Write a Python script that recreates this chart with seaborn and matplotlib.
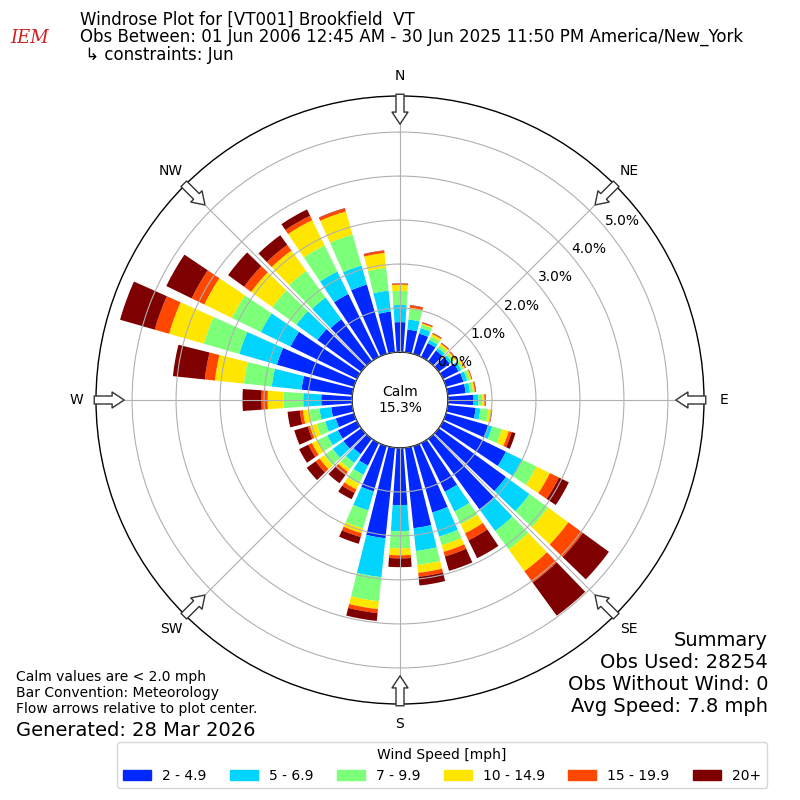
import numpy as np
import matplotlib
matplotlib.use("Agg")
import matplotlib.pyplot as plt
import seaborn as sns
from matplotlib.patches import Patch

sns.set_style("white")
plt.rcParams['font.family'] = ['DejaVu Sans']
plt.rcParams['text.color'] = 'black'

# Direction bins (degrees, meteorological convention)
directions = np.arange(0, 360, 10)

speed_bins = ["2 - 4.9", "5 - 6.9", "7 - 9.9", "10 - 14.9", "15 - 19.9", "20+"]
bin_colors = ["#0028ff", "#00d4ff", "#7cff79", "#ffe600", "#ff4700", "#7f0000"]

# Frequency (%) for each speed bin, 0..350 deg
spd_2_5 = [0.68, 0.52, 0.48, 0.35, 0.30, 0.31, 0.39, 0.41, 0.41, 0.58, 0.64, 1.00,
           1.59, 1.89, 1.98, 1.23, 1.57, 1.84, 1.30, 2.07, 1.07, 0.57, 0.43, 0.50,
           0.48, 0.43, 0.48, 0.70, 1.16, 1.82, 1.68, 1.23, 1.18, 1.59, 1.64, 0.93]
spd_5_7 = [0.39, 0.23, 0.13, 0.08, 0.07, 0.06, 0.07, 0.09, 0.10, 0.11, 0.11, 0.09,
           0.41, 0.66, 0.61, 0.50, 0.57, 0.52, 0.59, 0.89, 0.45, 0.23, 0.25, 0.30,
           0.27, 0.25, 0.27, 0.41, 0.68, 0.89, 0.75, 0.59, 0.61, 0.57, 0.45, 0.48]
spd_7_10 = [0.32, 0.24, 0.08, 0.09, 0.07, 0.06, 0.05, 0.06, 0.07, 0.09, 0.18, 0.23,
            0.36, 0.52, 0.52, 0.32, 0.20, 0.32, 0.39, 0.55, 0.43, 0.23, 0.17, 0.24,
            0.25, 0.20, 0.23, 0.45, 0.64, 0.84, 0.73, 0.68, 0.75, 0.66, 0.73, 0.52]
spd_10_15 = [0.14, 0.03, 0.03, 0.06, 0.05, 0.04, 0.04, 0.04, 0.04, 0.05, 0.07, 0.16,
             0.34, 0.57, 0.61, 0.23, 0.16, 0.18, 0.16, 0.18, 0.11, 0.14, 0.08, 0.13,
             0.14, 0.16, 0.15, 0.36, 0.66, 0.82, 0.70, 0.59, 0.57, 0.64, 0.55, 0.34]
spd_15_20 = [0.02, 0.05, 0.02, 0.02, 0.02, 0.02, 0.02, 0.01, 0.02, 0.02, 0.01, 0.07,
             0.23, 0.41, 0.32, 0.18, 0.11, 0.09, 0.07, 0.09, 0.09, 0.09, 0.09, 0.11,
             0.09, 0.05, 0.07, 0.14, 0.23, 0.34, 0.32, 0.20, 0.16, 0.11, 0.07, 0.05]
spd_20 = [0.01, 0.01, 0.01, 0.01, 0.01, 0.01, 0.01, 0.01, 0.01, 0.01, 0.01, 0.09,
          0.25, 0.73, 0.93, 0.45, 0.34, 0.20, 0.20, 0.18, 0.16, 0.16, 0.23, 0.25,
          0.23, 0.32, 0.28, 0.43, 0.73, 0.82, 0.64, 0.45, 0.27, 0.16, 0.01, 0.01]

series = [spd_2_5, spd_5_7, spd_7_10, spd_10_15, spd_15_20, spd_20]
calm_pct = 15.3

compass_names = ["N", "NE", "E", "SE", "S", "SW", "W", "NW"]
compass_angles = [0, 45, 90, 135, 180, 225, 270, 315]
r_ticks = [0, 1, 2, 3, 4, 5]

palette = sns.color_palette(bin_colors)

fig = plt.figure(figsize=(8, 8), dpi=100)
ax = fig.add_axes([0.12, 0.12, 0.76, 0.76], projection="polar")
ax.set_theta_zero_location("N")
ax.set_theta_direction(-1)

theta = np.deg2rad(directions)
bottom = np.zeros(len(directions))
for vals, color, label in zip(series, palette, speed_bins):
    vals = np.array(vals)
    ax.bar(theta, vals, width=np.deg2rad(8), bottom=bottom, color=color,
           edgecolor="none", label=label, zorder=1)
    bottom += vals

# grid and radial labels drawn on top of the bars
ax.set_axisbelow(False)
ax.set_rorigin(-1.09)
ax.set_ylim(0, 5.82)
ax.set_yticks(r_ticks)
ax.set_yticklabels([f"{v:.1f}%" for v in r_ticks], fontsize=10, color="black")
ax.set_rlabel_position(50)
ax.set_xticks(np.deg2rad(compass_angles))
ax.set_xticklabels([])
ax.grid(True, color="#b0b0b0", lw=0.8)
for sp in ax.spines.values():
    sp.set_color("black")
    sp.set_linewidth(1)

for name, ang in zip(compass_names, compass_angles):
    t = np.deg2rad(ang)
    ax.text(t, 6.27, name, ha="center", va="center", fontsize=10)
    ax.annotate("", xy=(t, 5.18), xytext=(t, 5.86), annotation_clip=False,
                arrowprops=dict(arrowstyle="simple,head_length=0.62,head_width=0.82,tail_width=0.41",
                                fc="white", ec="#333333", lw=1, mutation_scale=14,
                                shrinkA=0, shrinkB=0, clip_on=False))

fig.text(0.5, 0.5, f"Calm\n{calm_pct:.1f}%", ha="center", va="center", fontsize=10)

# header
fig.text(0.1, 0.975, "Windrose Plot for [VT001] Brookfield  VT", fontsize=12, va="center")
fig.text(0.1, 0.954, "Obs Between: 01 Jun 2006 12:45 AM - 30 Jun 2025 11:50 PM America/New_York",
         fontsize=12, va="center")
fig.text(0.1, 0.931, " \u21b3 constraints: Jun", fontsize=12, va="center")
fig.text(0.037, 0.952, "IEM", color="#d02020", fontsize=13, fontstyle="italic",
         family="DejaVu Serif", ha="center", va="center")

# footers
fig.text(0.02, 0.163, "Calm values are < 2.0 mph\nBar Convention: Meteorology\nFlow arrows relative to plot center.",
         fontsize=10, va="top")
fig.text(0.02, 0.0875, "Generated: 28 Mar 2026", fontsize=14, va="center")
fig.text(0.96, 0.211, "Summary\nObs Used: 28254\nObs Without Wind: 0\nAvg Speed: 7.8 mph",
         fontsize=14, ha="right", va="top", multialignment="right")

handles = [Patch(color=c, label=l) for c, l in zip(palette, speed_bins)]
fig.legend(handles=handles, loc="lower center", bbox_to_anchor=(0.5525, 0.006), ncol=6,
           title="Wind Speed [mph]", fontsize=10, title_fontsize=10, frameon=True,
           columnspacing=1.7)

fig.savefig("out.png", dpi=100)
